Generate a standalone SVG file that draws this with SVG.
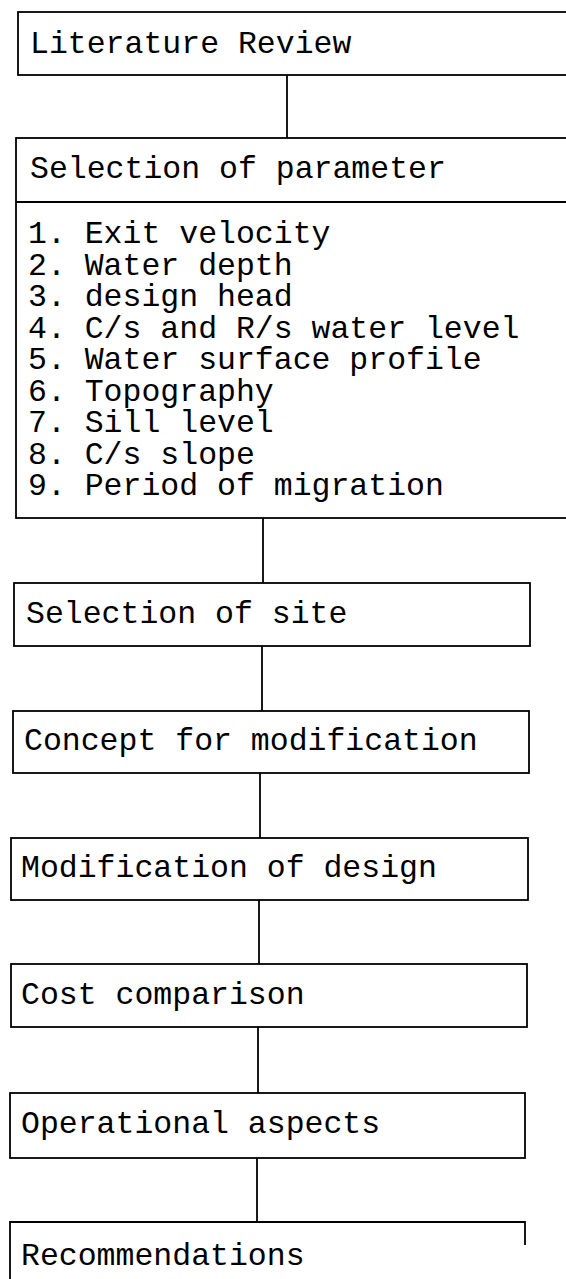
<svg xmlns="http://www.w3.org/2000/svg" width="566" height="1279" viewBox="0 0 566 1279">
<style>
.box{fill:none;stroke:#000;stroke-width:1.8}
.ln{fill:none;stroke:#000;stroke-width:1.8}
text{font-family:"Liberation Mono","Courier New",monospace;font-size:31.5px;fill:#000}
</style>
<rect width="566" height="1279" fill="#fff"/>
<g id="connectors">
<line class="ln" x1="287" y1="75" x2="287" y2="138"/>
<line class="ln" x1="263" y1="518" x2="263" y2="583"/>
<line class="ln" x1="262" y1="646" x2="262" y2="711"/>
<line class="ln" x1="260" y1="773" x2="260" y2="838"/>
<line class="ln" x1="259" y1="900" x2="259" y2="964"/>
<line class="ln" x1="258" y1="1027" x2="258" y2="1093"/>
<line class="ln" x1="257" y1="1158" x2="257" y2="1222"/>
</g>
<g id="n1">
<rect class="box" x="18" y="12" width="560" height="63"/>
<text x="30" y="53">Literature Review</text>
</g>
<g id="n2">
<rect class="box" x="16" y="138" width="560" height="380"/>
<line class="ln" x1="16" y1="202" x2="566" y2="202"/>
<text x="30" y="178">Selection of parameter</text>
<text x="28" y="243">1. Exit velocity</text>
<text x="28" y="274.5">2. Water depth</text>
<text x="28" y="306">3. design head</text>
<text x="28" y="337.5">4. C/s and R/s water level</text>
<text x="28" y="369">5. Water surface profile</text>
<text x="28" y="400.5">6. Topography</text>
<text x="28" y="432">7. Sill level</text>
<text x="28" y="463.5">8. C/s slope</text>
<text x="28" y="495">9. Period of migration</text>
</g>
<g id="n3">
<rect class="box" x="14" y="583" width="516" height="63"/>
<text x="26" y="623">Selection of site</text>
</g>
<g id="n4">
<rect class="box" x="13" y="711" width="516" height="62"/>
<text x="24" y="750">Concept for modification</text>
</g>
<g id="n5">
<rect class="box" x="11" y="838" width="517" height="62"/>
<text x="21" y="877">Modification of design</text>
</g>
<g id="n6">
<rect class="box" x="11" y="964" width="516" height="63"/>
<text x="21" y="1004">Cost comparison</text>
</g>
<g id="n7">
<rect class="box" x="10" y="1093" width="515" height="65"/>
<text x="21" y="1133">Operational aspects</text>
</g>
<g id="n8">
<path class="ln" d="M10,1279 V1222 H525 V1245"/>
<text x="21" y="1265">Recommendations</text>
</g>
</svg>
